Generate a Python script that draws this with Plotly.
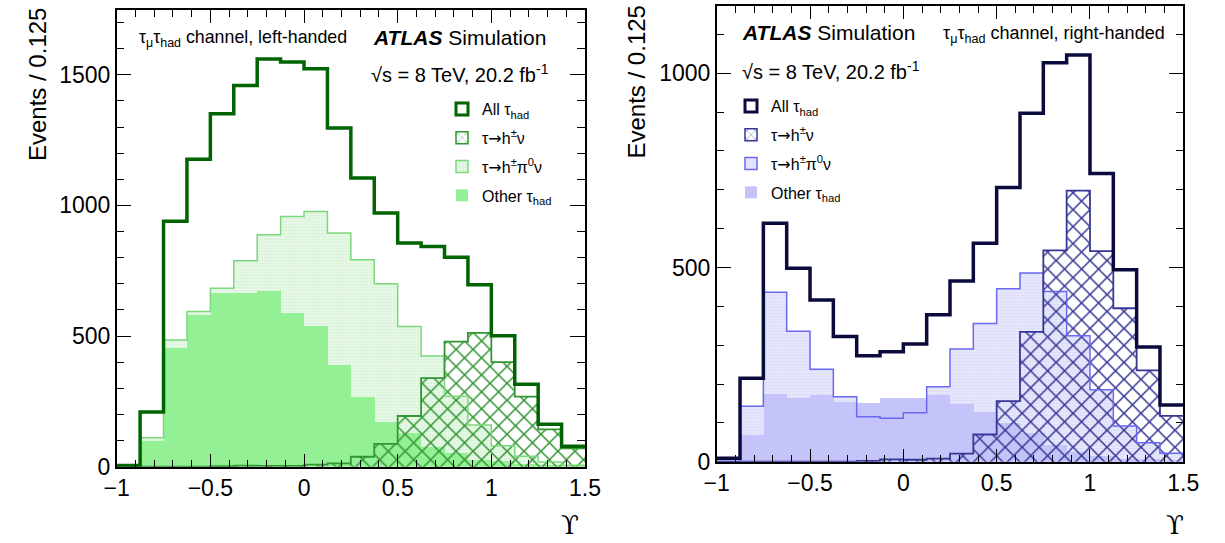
import plotly.graph_objects as go

# Upsilon binning: 20 bins of width 0.125 from -1 to 1.5
bin_edges = [-1.0, -0.875, -0.75, -0.625, -0.5, -0.375, -0.25, -0.125, 0.0,
             0.125, 0.25, 0.375, 0.5, 0.625, 0.75, 0.875, 1.0, 1.125, 1.25,
             1.375, 1.5]

# Left-handed tau_mu tau_had channel (events per bin)
lh_all = [5, 209, 939, 1177, 1351, 1459, 1560, 1549, 1523, 1296,
          1105, 971, 856, 843, 802, 696, 501, 316, 162, 78]
lh_h_nu = [0, 0, 0, 0, 2, 4, 3, 3, 8, 13,
           38, 87, 194, 339, 479, 512, 400, 268, 143, 70]
lh_h_pi0_nu = [2, 111, 485, 594, 683, 788, 888, 958, 977, 894,
               792, 700, 537, 424, 270, 160, 80, 40, 18, 6]
lh_other = [3, 99, 453, 581, 664, 664, 671, 588, 537, 390,
            268, 172, 128, 77, 52, 25, 20, 10, 4, 2]

# Right-handed tau_mu tau_had channel (events per bin)
rh_all = [9, 215, 614, 498, 416, 322, 273, 283, 303, 378,
          465, 562, 706, 897, 1027, 1047, 742, 494, 295, 146]
rh_h_nu = [0, 0, 0, 0, 0, 0, 2, 6, 5, 8,
           21, 70, 156, 334, 544, 698, 542, 395, 235, 118]
rh_h_pi0_nu = [0, 143, 436, 336, 238, 167, 116, 112, 126, 193,
               290, 356, 445, 486, 438, 324, 185, 92, 49, 22]
rh_other = [9, 69, 174, 163, 172, 154, 152, 163, 163, 172,
            149, 129, 100, 75, 44, 25, 15, 8, 6, 5]

ARROW = "<span style='font-family:DejaVu Sans'>→</span>"
legend_names = ["All τ<sub>had</sub>", f"τ{ARROW}h<sup>±</sup>ν",
                f"τ{ARROW}h<sup>±</sup>π<sup>0</sup>ν", "Other τ<sub>had</sub>"]

W, H = 1225, 543
centers = [(a + b) / 2 for a, b in zip(bin_edges[:-1], bin_edges[1:])]
width = bin_edges[1] - bin_edges[0]

palettes = {
    "left": dict(all="rgb(0,100,0)", hatch="rgb(50,150,50)",
                 pi0_bg="rgb(232,248,232)", pi0_dot="rgb(185,232,185)",
                 pi0_line="rgb(125,215,125)", other="rgb(148,240,148)"),
    "right": dict(all="rgb(10,10,60)", hatch="rgb(55,55,150)",
                  pi0_bg="rgb(232,232,252)", pi0_dot="rgb(196,196,246)",
                  pi0_line="rgb(105,105,240)", other="rgb(196,196,250)"),
}

fig = go.Figure()


def step_xy(vals):
    return bin_edges, list(vals) + [vals[-1]]


def add_panel(xa, ya, leg, pal, v_all, v_hnu, v_pi0, v_other):
    c = palettes[pal]
    common = dict(xaxis=xa, yaxis=ya, showlegend=False, hoverinfo="skip")
    # filled components, overlaid from zero
    fig.add_trace(go.Bar(x=centers, y=v_pi0, width=width,
                         marker=dict(color=c["pi0_bg"], line=dict(width=0),
                                     pattern=dict(shape=".", fgcolor=c["pi0_dot"],
                                                  bgcolor=c["pi0_bg"], size=3,
                                                  solidity=0.35)),
                         **common))
    fig.add_trace(go.Bar(x=centers, y=v_other, width=width,
                         marker=dict(color=c["other"], line=dict(width=0)),
                         **common))
    fig.add_trace(go.Bar(x=centers, y=v_hnu, width=width,
                         marker=dict(color="rgba(0,0,0,0)", line=dict(width=0),
                                     pattern=dict(shape="x", fgcolor=c["hatch"],
                                                  bgcolor="rgba(0,0,0,0)",
                                                  size=12, solidity=0.24,
                                                  fillmode="replace")),
                         **common))
    # histogram step outlines
    for vals, col, lw in [(v_pi0, c["pi0_line"], 1.5),
                          (v_hnu, c["hatch"], 1.8),
                          (v_all, c["all"], 3.5)]:
        sx, sy = step_xy(vals)
        fig.add_trace(go.Scatter(x=sx, y=sy, mode="lines", line_shape="hv",
                                 line=dict(color=col, width=lw), **common))
    # legend entries
    styles = [
        dict(color="white", line=dict(color=c["all"], width=3)),
        dict(color="white", line=dict(color=c["hatch"], width=1.5),
             pattern=dict(shape="x", fgcolor=c["hatch"], bgcolor="white",
                          size=7, solidity=0.22)),
        dict(color=c["pi0_bg"], line=dict(color=c["pi0_line"], width=1.5),
             pattern=dict(shape=".", fgcolor=c["pi0_dot"], bgcolor=c["pi0_bg"],
                          size=3, solidity=0.35)),
        dict(color=c["other"], line=dict(width=0)),
    ]
    for i, (name, mk) in enumerate(zip(legend_names, styles)):
        fig.add_trace(go.Bar(x=[None], y=[None], name=name, marker=mk,
                             xaxis=xa, yaxis=ya, legend=leg,
                             legendgroup=f"{pal}{i}", showlegend=True))


add_panel("x", "y", "legend", "left", lh_all, lh_h_nu, lh_h_pi0_nu, lh_other)
add_panel("x2", "y2", "legend2", "right", rh_all, rh_h_nu, rh_h_pi0_nu, rh_other)

tick_font = dict(family="Liberation Sans, Arial, sans-serif", size=23, color="black")


def xaxis_cfg(x0, x1, anchor):
    return dict(domain=[x0 / W, x1 / W], range=[-1, 1.5], dtick=0.5, tick0=-1,
                ticks="inside", ticklen=13, tickwidth=1.2, tickcolor="black",
                minor=dict(dtick=0.1, tick0=-1, ticks="inside", ticklen=7,
                           tickwidth=1.2, tickcolor="black"),
                showline=True, linecolor="black", linewidth=1.5, mirror="allticks",
                showgrid=False, zeroline=False, tickfont=tick_font,
                automargin=False, anchor=anchor)


def yaxis_cfg(y_top, y_bot, ymax, anchor):
    return dict(domain=[1 - y_bot / H, 1 - y_top / H], range=[0, ymax], dtick=500,
                ticks="inside", ticklen=15, tickwidth=1.2, tickcolor="black",
                minor=dict(dtick=100, ticks="inside", ticklen=8, tickwidth=1.2,
                           tickcolor="black"),
                showline=True, linecolor="black", linewidth=1.5, mirror="allticks",
                showgrid=False, zeroline=False, tickfont=tick_font,
                automargin=False, anchor=anchor)


leg_font = dict(family="Liberation Sans, Arial, sans-serif", size=16, color="black")
fig.update_layout(
    width=W, height=H, margin=dict(l=0, r=0, t=0, b=0, autoexpand=False),
    paper_bgcolor="white", plot_bgcolor="white",
    barmode="overlay", bargap=0,
    xaxis=xaxis_cfg(116.7, 585, "y"), yaxis=yaxis_cfg(10, 466.7, 1748, "x"),
    xaxis2=xaxis_cfg(716.7, 1183.3, "y2"), yaxis2=yaxis_cfg(6, 461.7, 1173, "x2"),
    legend=dict(x=(484 - 42) / W, y=1 - 92 / H, xanchor="left", yanchor="top",
                bgcolor="rgba(0,0,0,0)", font=leg_font, tracegroupgap=5,
                traceorder="grouped"),
    legend2=dict(x=(773 - 42) / W, y=1 - 89 / H, xanchor="left", yanchor="top",
                 bgcolor="rgba(0,0,0,0)", font=leg_font, tracegroupgap=5,
                 traceorder="grouped"),
)

txt_font = dict(family="Liberation Sans, Arial, sans-serif", color="black")


def note(text, x, y, size, xanchor="left", yanchor="middle", angle=0, family=None):
    f = dict(txt_font, size=size)
    if family:
        f["family"] = family
    fig.add_annotation(text=text, x=x / W, y=1 - y / H, xref="paper", yref="paper",
                       xanchor=xanchor, yanchor=yanchor, showarrow=False,
                       font=f, textangle=angle)


# left panel labels
note("τ<sub>μ</sub>τ<sub>had</sub> channel, left-handed", 137, 38, 17.8)
note("<b><i>ATLAS</i></b> Simulation", 371, 37, 21)
note("√s = 8 TeV, 20.2 fb<sup>-1</sup>", 369, 73, 20)
# right panel labels
note("<b><i>ATLAS</i></b> Simulation", 740, 33, 21)
note("√s = 8 TeV, 20.2 fb<sup>-1</sup>", 740, 70, 20)
note("τ<sub>μ</sub>τ<sub>had</sub> channel, right-handed", 941, 34, 18)
# axis titles
note("Events / 0.125", 37.5, 6, 24, xanchor="center", yanchor="top", angle=-90)
note("Events / 0.125", 636, 4, 24, xanchor="center", yanchor="top", angle=-90)
note("ϒ", 570, 525, 26, xanchor="center", family="DejaVu Serif, serif")
note("ϒ", 1175, 525, 26, xanchor="center", family="DejaVu Serif, serif")

fig.write_html("out.html")
